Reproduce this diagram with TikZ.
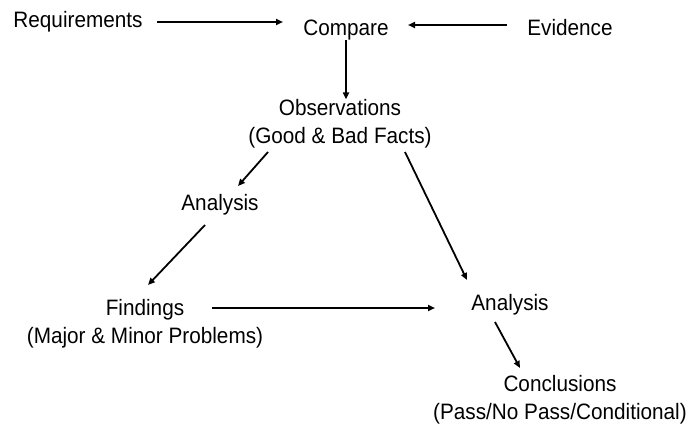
\documentclass[tikz,border=0pt]{standalone}
\usepackage{fontspec}
\setmainfont{Liberation Sans}[FakeStretch=0.93]
\usetikzlibrary{arrows.meta}
\begin{document}
\begin{tikzpicture}[x=1pt,y=-1pt,
  lbl/.style={inner sep=0pt,align=center,font=\fontsize{22.3}{28}\selectfont},
  arr/.style={line width=1.8pt,-{Triangle[length=7pt,width=6pt]}}]
\useasboundingbox (0,0) rectangle (694,432);
\node[lbl] (req) at (78,22) {Requirements};
\node[lbl] (cmp) at (346,30) {Compare};
\node[lbl] (evi) at (570,28) {Evidence};
\node[lbl] (obs) at (340,124) {Observations\\(Good \& Bad Facts)};
\node[lbl] (an1) at (220,205) {Analysis};
\node[lbl] (fnd) at (145,324) {Findings\\(Major \& Minor Problems)};
\node[lbl] (an2) at (510,305) {Analysis};
\node[lbl] (con) at (560,400) {Conclusions\\(Pass/No Pass/Conditional)};
\coordinate (c1) at (283,22);
\coordinate (c2) at (408,25);
\draw[arr] (req.east) ++(14,0) -- (c1);
\draw[arr] (evi.west) ++(-20,-3) -- (c2);
\draw[arr] (346,40) -- (obs.north -| 346,0);
\draw[arr] (268,152) -- (238,186);
\draw[arr] (205,225) -- (148,285);
\draw[arr] (212,308) -- (435,308);
\draw[arr] (405,152) -- (467,280);
\draw[arr] (495,322) -- (520,368);
\end{tikzpicture}
\end{document}
